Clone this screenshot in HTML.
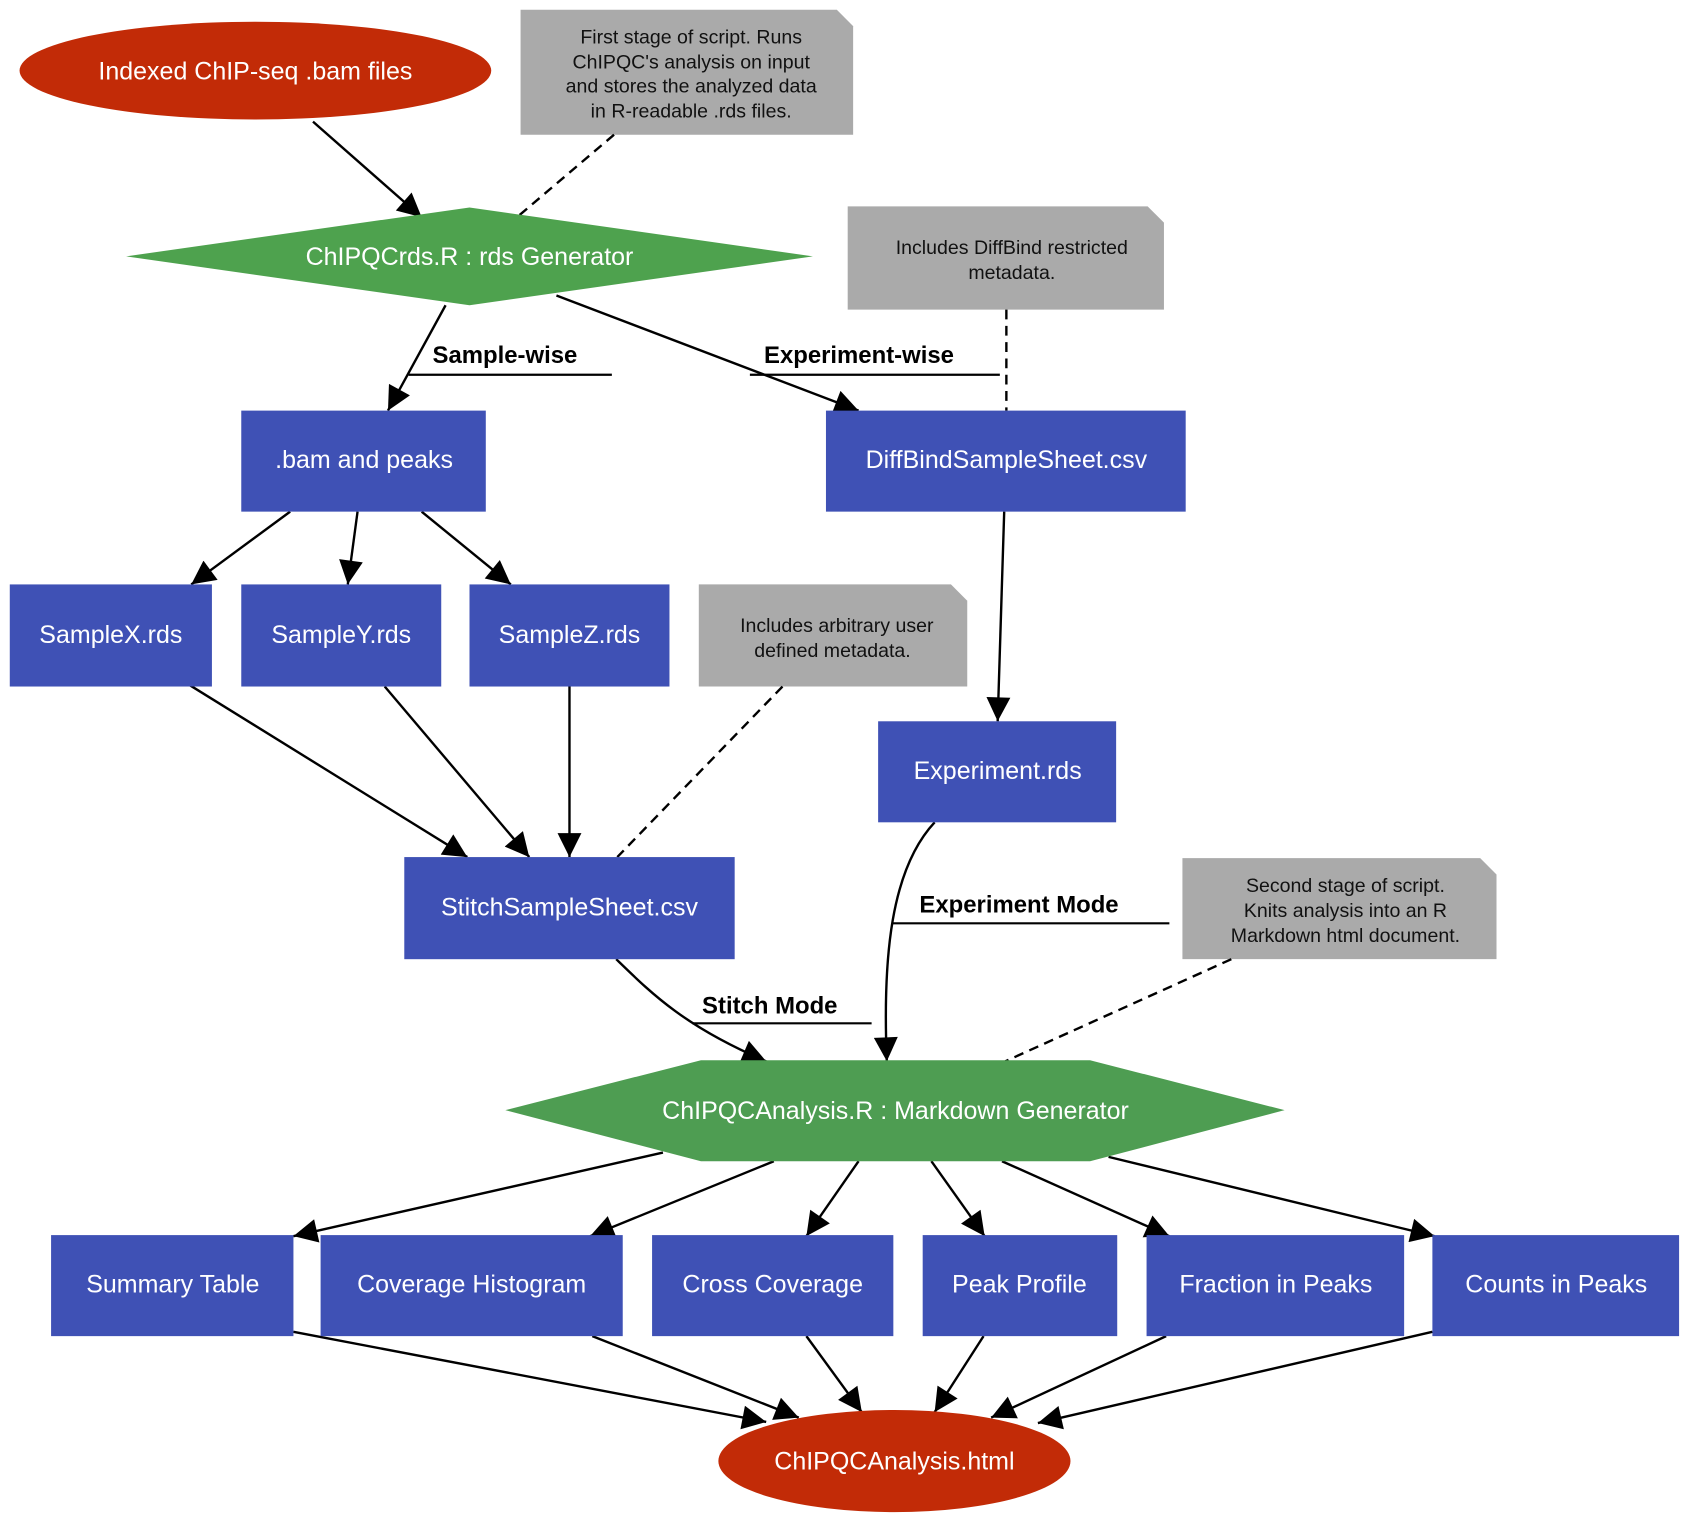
<!DOCTYPE html>
<html><head><meta charset="utf-8"><style>
html,body{margin:0;padding:0;background:#fff;}
svg{display:block;}
text{font-family:"Liberation Sans",sans-serif;}
.n{fill:#fff;font-size:23px;text-anchor:middle;}
.note{fill:#111;font-size:18px;text-anchor:middle;}
.lbl{fill:#000;font-size:22px;font-weight:bold;}
.e{stroke:#000;stroke-width:2.2;fill:none;}
.d{stroke:#000;stroke-width:2.2;fill:none;stroke-dasharray:9,6;}
.box{fill:#3f51b5;}
</style></head><body>
<svg width="1703" height="1536" viewBox="0 0 1567 1414" preserveAspectRatio="none" xmlns="http://www.w3.org/2000/svg">
<defs><marker id="a" markerWidth="10" markerHeight="10" refX="9" refY="5" orient="auto" markerUnits="userSpaceOnUse" viewBox="0 0 10 10"><path d="M0,0 L10,5 L0,10 z" fill="#000"/></marker>
<marker id="A" viewBox="0 0 10 10" refX="10" refY="5" markerWidth="26" markerHeight="22" orient="auto" markerUnits="userSpaceOnUse"><path d="M0,0 L10,5 L0,10 z" fill="#000"/></marker></defs>

<!-- notes -->
<path d="M479,9 H770 L785,24 V124 H479 Z" fill="#aaa"/>
<text class="note" x="636" y="40">First stage of script.  Runs</text>
<text class="note" x="636" y="63">ChIPQC's analysis on input</text>
<text class="note" x="636" y="85">and stores the analyzed data</text>
<text class="note" x="636" y="108">in R-readable .rds files.</text>

<path d="M780,190 H1056 L1071,205 V285 H780 Z" fill="#aaa"/>
<text class="note" x="931" y="234">Includes DiffBind restricted</text>
<text class="note" x="931" y="257">metadata.</text>

<path d="M643,538 H875 L890,553 V632 H643 Z" fill="#aaa"/>
<text class="note" x="770" y="582">Includes arbitrary user</text>
<text class="note" x="766" y="605">defined metadata.</text>

<path d="M1088,790 H1362 L1377,805 V883 H1088 Z" fill="#aaa"/>
<text class="note" x="1238" y="821">Second stage of script.</text>
<text class="note" x="1238" y="844">Knits analysis into an R</text>
<text class="note" x="1238" y="867">Markdown html document.</text>

<!-- edges -->
<line class="e" x1="288" y1="112" x2="388" y2="200" marker-end="url(#A)"/>
<line class="d" x1="565" y1="124" x2="478" y2="198"/>
<line class="e" x1="410" y1="281" x2="357" y2="378" marker-end="url(#A)"/>
<line class="e" x1="512" y1="272" x2="790" y2="378" marker-end="url(#A)"/>
<line class="d" x1="926" y1="285" x2="926" y2="378"/>
<text class="lbl" x="398" y="334">Sample-wise</text>
<line x1="376" y1="345" x2="563" y2="345" stroke="#000" stroke-width="2"/>
<text class="lbl" x="703" y="334">Experiment-wise</text>
<line x1="690" y1="345" x2="920" y2="345" stroke="#000" stroke-width="2"/>

<line class="e" x1="267" y1="471" x2="176" y2="538" marker-end="url(#A)"/>
<line class="e" x1="329" y1="471" x2="320" y2="538" marker-end="url(#A)"/>
<line class="e" x1="388" y1="471" x2="470" y2="538" marker-end="url(#A)"/>
<line class="e" x1="924" y1="471" x2="918" y2="664" marker-end="url(#A)"/>

<line class="e" x1="175" y1="631" x2="430" y2="789" marker-end="url(#A)"/>
<line class="e" x1="354" y1="632" x2="487" y2="789" marker-end="url(#A)"/>
<line class="e" x1="524" y1="632" x2="524" y2="789" marker-end="url(#A)"/>
<line class="d" x1="720" y1="632" x2="568" y2="789"/>

<path class="e" d="M567,883 C600,915 630,945 705,977" marker-end="url(#A)"/>
<text class="lbl" x="646" y="933">Stitch Mode</text>
<line x1="637" y1="942" x2="802" y2="942" stroke="#000" stroke-width="2"/>
<path class="e" d="M860,757 C820,800 812,880 816,977" marker-end="url(#A)"/>
<text class="lbl" x="846" y="840">Experiment Mode</text>
<line x1="821" y1="850" x2="1076" y2="850" stroke="#000" stroke-width="2"/>
<line class="d" x1="1133" y1="883" x2="925" y2="977"/>

<line class="e" x1="610" y1="1061" x2="270" y2="1138" marker-end="url(#A)"/>
<line class="e" x1="712" y1="1069" x2="543" y2="1138" marker-end="url(#A)"/>
<line class="e" x1="790" y1="1069" x2="742" y2="1138" marker-end="url(#A)"/>
<line class="e" x1="857" y1="1069" x2="906" y2="1138" marker-end="url(#A)"/>
<line class="e" x1="922" y1="1069" x2="1076" y2="1138" marker-end="url(#A)"/>
<line class="e" x1="1020" y1="1065" x2="1320" y2="1138" marker-end="url(#A)"/>

<line class="e" x1="270" y1="1226" x2="705" y2="1309" marker-end="url(#A)"/>
<line class="e" x1="545" y1="1230" x2="735" y2="1305" marker-end="url(#A)"/>
<line class="e" x1="742" y1="1230" x2="793" y2="1300" marker-end="url(#A)"/>
<line class="e" x1="905" y1="1230" x2="860" y2="1300" marker-end="url(#A)"/>
<line class="e" x1="1073" y1="1230" x2="912" y2="1305" marker-end="url(#A)"/>
<line class="e" x1="1318" y1="1226" x2="955" y2="1310" marker-end="url(#A)"/>

<!-- nodes -->
<ellipse cx="235" cy="65" rx="217" ry="45" fill="#c22b07"/>
<text class="n" x="235" y="73">Indexed ChIP-seq .bam files</text>
<polygon points="116,236 432,191 748,236 432,281" fill="#4ea24e"/>
<text class="n" x="432" y="244">ChIPQCrds.R : rds Generator</text>

<rect class="box" x="222" y="378" width="225" height="93"/>
<text class="n" x="335" y="431">.bam and peaks</text>
<rect class="box" x="760" y="378" width="331" height="93"/>
<text class="n" x="926" y="431">DiffBindSampleSheet.csv</text>

<rect class="box" x="9" y="538" width="186" height="94"/>
<text class="n" x="102" y="592">SampleX.rds</text>
<rect class="box" x="222" y="538" width="184" height="94"/>
<text class="n" x="314" y="592">SampleY.rds</text>
<rect class="box" x="432" y="538" width="184" height="94"/>
<text class="n" x="524" y="592">SampleZ.rds</text>

<rect class="box" x="808" y="664" width="219" height="93"/>
<text class="n" x="918" y="717">Experiment.rds</text>
<rect class="box" x="372" y="789" width="304" height="94"/>
<text class="n" x="524" y="843">StitchSampleSheet.csv</text>

<polygon points="465,1022 645,976 1003,976 1182,1022 1003,1069 645,1069" fill="#4e9d52"/>
<text class="n" x="824" y="1030">ChIPQCAnalysis.R : Markdown Generator</text>

<rect class="box" x="47" y="1137" width="223" height="93"/>
<text class="n" x="159" y="1190">Summary Table</text>
<rect class="box" x="295" y="1137" width="278" height="93"/>
<text class="n" x="434" y="1190">Coverage Histogram</text>
<rect class="box" x="600" y="1137" width="222" height="93"/>
<text class="n" x="711" y="1190">Cross Coverage</text>
<rect class="box" x="849" y="1137" width="179" height="93"/>
<text class="n" x="938" y="1190">Peak Profile</text>
<rect class="box" x="1055" y="1137" width="237" height="93"/>
<text class="n" x="1174" y="1190">Fraction in Peaks</text>
<rect class="box" x="1318" y="1137" width="227" height="93"/>
<text class="n" x="1432" y="1190">Counts in Peaks</text>

<ellipse cx="823" cy="1345" rx="162" ry="47" fill="#c22b07"/>
<text class="n" x="823" y="1353">ChIPQCAnalysis.html</text>
</svg>
</body></html>
